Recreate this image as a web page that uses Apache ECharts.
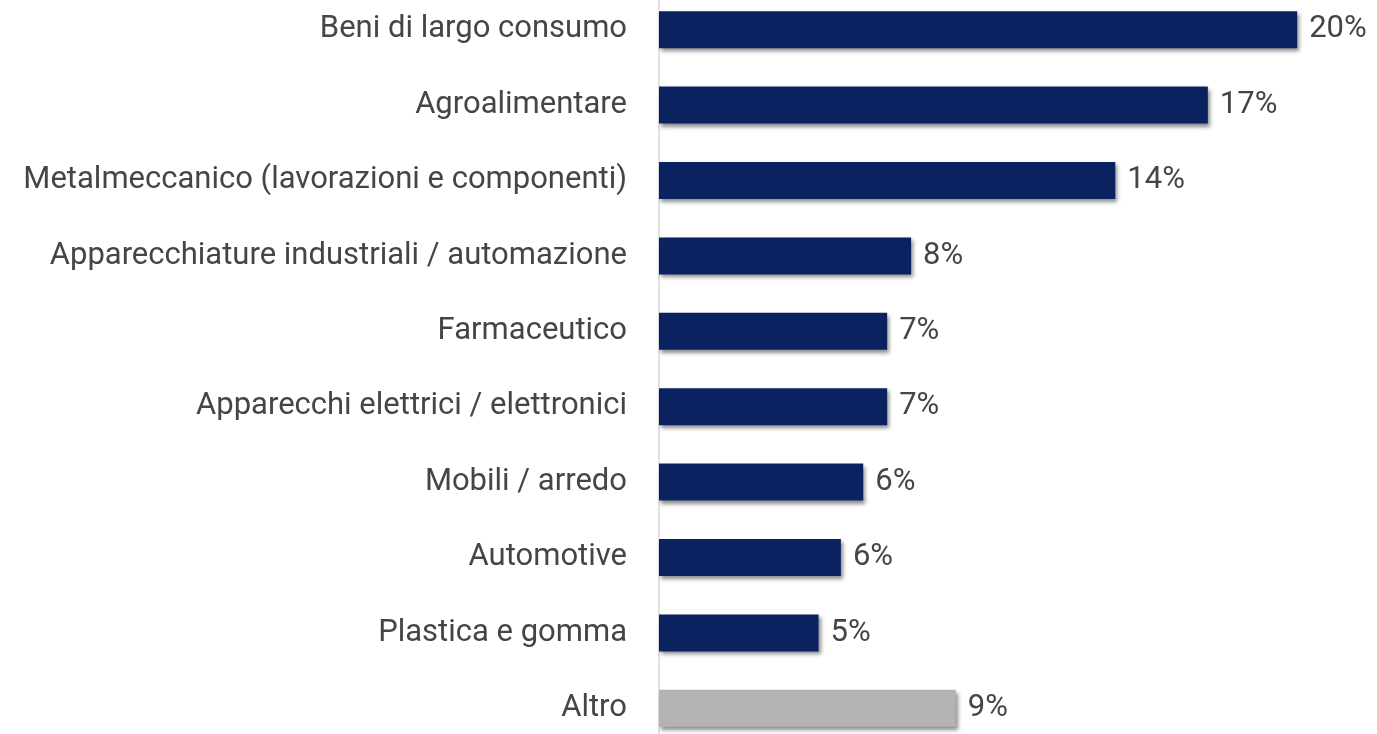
<!DOCTYPE html>
<html>
<head>
<meta charset="utf-8">
<script src="https://cdn.jsdelivr.net/npm/echarts@6/dist/echarts.min.js"></script>
<style>
  html, body { margin: 0; padding: 0; background: #ffffff; overflow: hidden; width: 1377px; height: 734px; }
  /* the plot area runs slightly past the top and bottom edges of the page */
  #chart { width: 1377px; height: 754px; margin-top: -8px; }
</style>
</head>
<body>
<div id="chart"></div>
<script>
// Settori di attività: quota percentuale
const categories = [
  'Beni di largo consumo',
  'Agroalimentare',
  'Metalmeccanico (lavorazioni e componenti)',
  'Apparecchiature industriali / automazione',
  'Farmaceutico',
  'Apparecchi elettrici / elettronici',
  'Mobili / arredo',
  'Automotive',
  'Plastica e gomma',
  'Altro'
];
const shares = [20.0, 17.2, 14.3, 7.9, 7.15, 7.15, 6.4, 5.7, 5.0, 9.3];
const otherCategory = 'Altro';

const mainColor = '#0b2260';
const otherColor = '#b3b3b3';
const textColor = '#454545';
const fontFamily = 'Roboto, "Noto Sans", sans-serif';

const chart = echarts.init(document.getElementById('chart'));
chart.setOption({
  animation: false,
  grid: { left: 659, top: 0, width: 702, height: 754, containLabel: false },
  xAxis: {
    type: 'value', min: 0, max: 22,
    show: false
  },
  yAxis: {
    type: 'category',
    data: categories,
    inverse: true,
    axisLine: { show: true, lineStyle: { color: '#d9d9d9', width: 1.5 } },
    axisTick: { show: false },
    axisLabel: {
      margin: 32,
      color: textColor,
      fontFamily: fontFamily,
      fontSize: 31
    }
  },
  series: [{
    type: 'bar',
    barWidth: 37,
    data: shares.map((v, i) => ({
      value: v,
      itemStyle: {
        color: categories[i] === otherCategory ? otherColor : mainColor
      }
    })),
    itemStyle: {
      shadowColor: 'rgba(0,0,0,0.45)',
      shadowBlur: 4,
      shadowOffsetX: 2,
      shadowOffsetY: 3
    },
    label: {
      show: true,
      position: 'right',
      distance: 12,
      color: textColor,
      fontFamily: fontFamily,
      fontSize: 31,
      formatter: p => Math.round(p.value) + '%'
    }
  }]
});
</script>
</body>
</html>
